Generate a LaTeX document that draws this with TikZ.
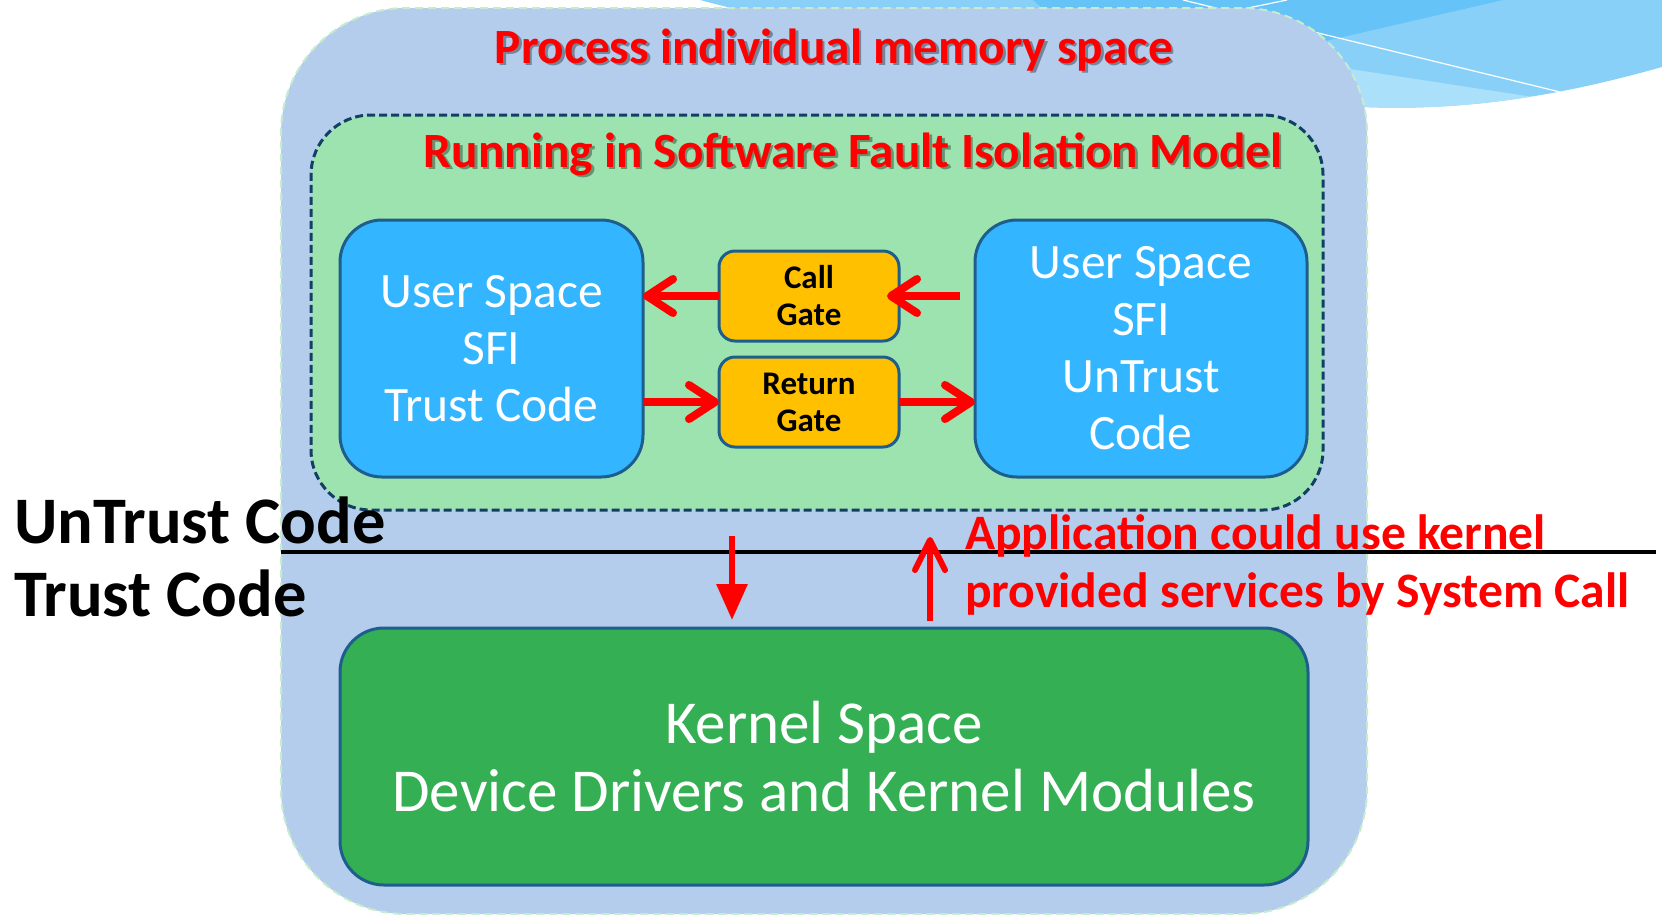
\documentclass[tikz,border=0pt]{standalone}
\usepackage{fontspec}
\setmainfont{Carlito}
\usetikzlibrary{arrows.meta}

\definecolor{outerfill}{RGB}{180,205,236}
\definecolor{outerline}{RGB}{198,236,206}
\definecolor{sfifill}{RGB}{157,227,175}
\definecolor{sfiline}{RGB}{18,64,100}
\definecolor{boxline}{RGB}{30,94,140}
\definecolor{userblue}{RGB}{51,181,255}
\definecolor{gategold}{RGB}{255,192,0}
\definecolor{kernelgreen}{RGB}{52,175,83}
\definecolor{swooshA}{RGB}{102,195,247}
\definecolor{swooshB}{RGB}{137,208,249}
\definecolor{swooshC}{RGB}{171,224,251}

\begin{document}
\begin{tikzpicture}[x=1pt,y=-1pt,
  every node/.style={inner sep=0pt,outer sep=0pt},
  outerbox/.style={draw=outerline,line width=2pt,dash pattern=on 8pt off 5pt,
    fill=outerfill,rounded corners=125pt},
  sfibox/.style={draw=sfiline,line width=3pt,dash pattern=on 8pt off 4pt,
    fill=sfifill,rounded corners=60pt},
  userbox/.style={draw=boxline,line width=3pt,fill=userblue,rounded corners=42pt,
    text=white,align=center,font=\fontsize{49.5}{57}\selectfont},
  gatebox/.style={draw=boxline,line width=3pt,fill=gategold,rounded corners=16pt,
    align=center,font=\fontsize{33}{37}\selectfont\bfseries,
    minimum width=180pt,minimum height=90pt},
  kernelbox/.style={draw=boxline,line width=3pt,fill=kernelgreen,rounded corners=44pt,
    text=white,align=center,font=\fontsize{61}{68}\selectfont},
  titletext/.style={text=red,font=\fontsize{49.3}{57}\selectfont\bfseries,anchor=base},
  titleshadow/.style={text=black,opacity=.35,font=\fontsize{49.3}{57}\selectfont\bfseries,anchor=base},
  sidetext/.style={font=\fontsize{66.5}{70}\selectfont\bfseries,anchor=base west},
  notetext/.style={text=red,font=\fontsize{49.6}{58}\selectfont\bfseries,anchor=base west},
  gatearrow/.style={draw=red,line width=8pt,
    -{Straight Barb[length=26pt,width=34pt,round]}},
  downarrow/.style={draw=red,line width=6pt,-{Triangle[length=36pt,width=30pt]}},
  uparrow/.style={draw=red,line width=6pt,-{Straight Barb[length=30pt,width=30pt,round]}},
]
\useasboundingbox (0,0) rectangle (1662,914);

% decorative swoosh along the top edge
\begin{scope}
  \clip (700,0) -- (1662,0) -- (1662,67)
    .. controls (1580,90) and (1480,112) .. (1363,107)
    .. controls (1100,80) and (850,40) .. (700,0) -- cycle;
  \fill[swooshB] (700,0) rectangle (1662,130);
  \fill[swooshA] (1033,0) -- (1503,0) -- (1317,43) -- (1300,60) -- (1100,60) -- cycle;
  \fill[swooshC] (1280,55) -- (1337,67) -- (1533,97) -- (1533,130) -- (1280,130) -- cycle;
  \draw[white,line width=1.2pt] (1183,0) -- (1560,92);
  \draw[white,line width=1.2pt] (1243,9) -- (1287,0);
\end{scope}

% process memory space and the SFI region
\node[outerbox,minimum width=1086pt,minimum height=906pt] (outer) at (824,461) {};
\node[sfibox,minimum width=1012pt,minimum height=395pt] (sfi) at (817,312.5) {};

% user space modules
\node[userbox,minimum width=303pt,minimum height=257pt] (trust) at (491.5,348.5)
  {User Space\\SFI\\Trust Code};
\node[userbox,minimum width=332pt,minimum height=257pt] (untrust) at (1141,348.5)
  {User Space\\SFI\\UnTrust\\Code};

% gates
\node[gatebox] (callgate) at (809,296) {Call\\Gate};
\node[gatebox] (retgate) at (809,402) {Return\\Gate};

% kernel space
\node[kernelbox,minimum width=968pt,minimum height=257pt] (kernel) at (824,756.5)
  {Kernel Space\\Device Drivers and Kernel Modules};

% trust boundary
\coordinate (divend) at (1656,552);
\draw[line width=4pt] (outer.west |- divend) -- (divend);

% gate connectors
\draw[gatearrow] (callgate.west) -- (callgate.west -| trust.east);
\draw[gatearrow] ([xshift=-15pt]callgate.east -| untrust.west) -- ([xshift=-12pt]callgate.east);
\draw[gatearrow] (retgate.west -| trust.east) -- (retgate.west);
\draw[gatearrow] (retgate.east) -- (retgate.east -| untrust.west);

% system call connectors
\coordinate (downtop) at (732,536);
\coordinate (downtip) at (732,620);
\coordinate (uptip) at (930,537);
\coordinate (upfoot) at (930,621);
\draw[downarrow] (downtop) -- (downtip);
\draw[uparrow] (upfoot) -- (uptip);

% titles
\node[titleshadow] (t1s) at (836.5,65.5) {Process individual memory space};
\node[titletext] (t1) at (834,63) {Process individual memory space};
\node[titleshadow] (t2s) at (855.5,169.5) {Running in Software Fault Isolation Model};
\node[titletext] (t2) at (853,167) {Running in Software Fault Isolation Model};

% side labels
\node[sidetext] (lblu) at (14,543) {UnTrust Code};
\node[sidetext] (lblt) at (14,616) {Trust Code};

% note on system calls
\node[notetext] (note1) at (965,549) {Application could use kernel};
\node[notetext] (note2) at (965,607) {provided services by System Call};
\end{tikzpicture}
\end{document}
